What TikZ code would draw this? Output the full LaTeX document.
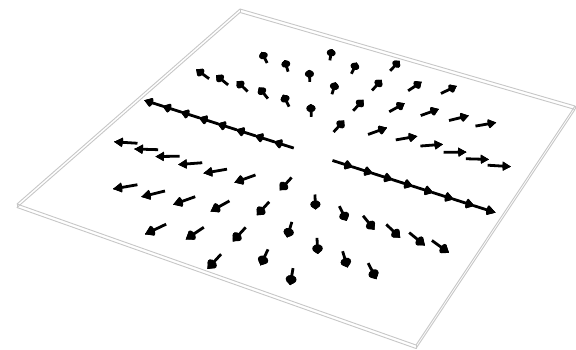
\documentclass[tikz,border=0pt]{standalone}
\usetikzlibrary{calc}

% plate point (u,v) in grid units, centre at 0, dropped by #4 px
\newcommand\slabpt[4]{%
  \pgfmathsetmacro\slabS{0.5+0.0525*(#2)}%
  \pgfmathsetmacro\slabT{0.5+0.0525*(#3)}%
  \pgfmathsetmacro\slabW{1-0.08935*\slabS+0.23345*\slabT}%
  \coordinate (#1) at ({(361.83*\slabS+279.03*\slabT+17)/\slabW},{(110.17*\slabS-192.9*\slabT+204)/\slabW+#4});}
% same, for the arrow layer (small shear fitted to the picture)
\newcommand\fieldpt[3]{%
  \pgfmathsetmacro\fldU{#2}%
  \pgfmathsetmacro\fldV{#3}%
  \pgfmathsetmacro\slabS{0.5+0.0525*\fldU}%
  \pgfmathsetmacro\slabT{0.5+0.0525*\fldV}%
  \pgfmathsetmacro\slabW{1-0.08935*\slabS+0.23345*\slabT}%
  \coordinate (#1) at ({(361.83*\slabS+279.03*\slabT+17)/\slabW-1.72+0.249*\fldU+0.415*\fldV},
                       {(110.17*\slabS-192.9*\slabT+204)/\slabW+2.55+0.13*\fldU-0.181*\fldV});}
\def\slabhalf{9.5238}

% one arrow on ring #1 at angle #2
\newcommand\fieldarrow[2]{%
  \fieldpt{ar_tail}{#1*cos(#2)}{#1*sin(#2)}
  \fieldpt{ar_tip}{(#1+1.06)*cos(#2)}{(#1+1.06)*sin(#2)}
  \fieldpt{ar_side}{(#1+0.7)*cos(#2)-0.22*sin(#2)}{(#1+0.7)*sin(#2)+0.22*cos(#2)}
  \fieldpt{ar_base}{(#1+0.7)*cos(#2)}{(#1+0.7)*sin(#2)}
  \pgfmathsetmacro\conez{3.8*1.072/\slabW}
  \coordinate (ar_n) at ($(ar_side)-(ar_base)$);
  \coordinate (ar_z) at (0,-\conez);
  \draw[shaft] (ar_tail) -- (ar_base);
  \fill ($(ar_base)+(ar_n)$) \foreach \p in {30,60,...,330} {-- ($(ar_base)+{cos(\p)}*(ar_n)+{sin(\p)}*(ar_z)$)} -- cycle;
  \foreach \p in {0,30,...,150}
    \fill ($(ar_base)+{cos(\p)}*(ar_n)+{sin(\p)}*(ar_z)$) -- ($(ar_base)-{cos(\p)}*(ar_n)-{sin(\p)}*(ar_z)$) -- (ar_tip) -- cycle;
}

\begin{document}
\begin{tikzpicture}[x=1pt, y=-1pt,
    slab edge/.style={draw=black!22, line width=0.9pt, line join=round},
    shaft/.style={line width=2.8pt, line cap=butt}]
  \useasboundingbox[fill=white] (0,0) rectangle (576,350);
  % draw the thin plate, top face and bottom face
  \slabpt{slab_l}{-\slabhalf}{-\slabhalf}{0}
  \slabpt{slab_b}{\slabhalf}{-\slabhalf}{0}
  \slabpt{slab_r}{\slabhalf}{\slabhalf}{0}
  \slabpt{slab_t}{-\slabhalf}{\slabhalf}{0}
  \slabpt{slab_lb}{-\slabhalf}{-\slabhalf}{3.5}
  \slabpt{slab_bb}{\slabhalf}{-\slabhalf}{3.5}
  \slabpt{slab_rb}{\slabhalf}{\slabhalf}{3.5}
  \slabpt{slab_tb}{-\slabhalf}{\slabhalf}{3.5}
  \draw[slab edge] (slab_l) -- (slab_b) -- (slab_r) -- (slab_t) -- cycle;
  \draw[slab edge] (slab_lb) -- (slab_bb) -- (slab_rb) -- (slab_tb) -- cycle;
  \draw[slab edge] (slab_l) -- (slab_lb) (slab_b) -- (slab_bb) (slab_r) -- (slab_rb) (slab_t) -- (slab_tb);
  % draw radial arrows, 2r of them on ring r
  \foreach \r in {1,...,8} {
    \pgfmathtruncatemacro\nk{2*\r-1}
    \foreach \k in {0,...,\nk} {
      \pgfmathsetmacro\ang{\k*180/\r}
      \fieldarrow{\r}{\ang}
    }
  }
\end{tikzpicture}
\end{document}
